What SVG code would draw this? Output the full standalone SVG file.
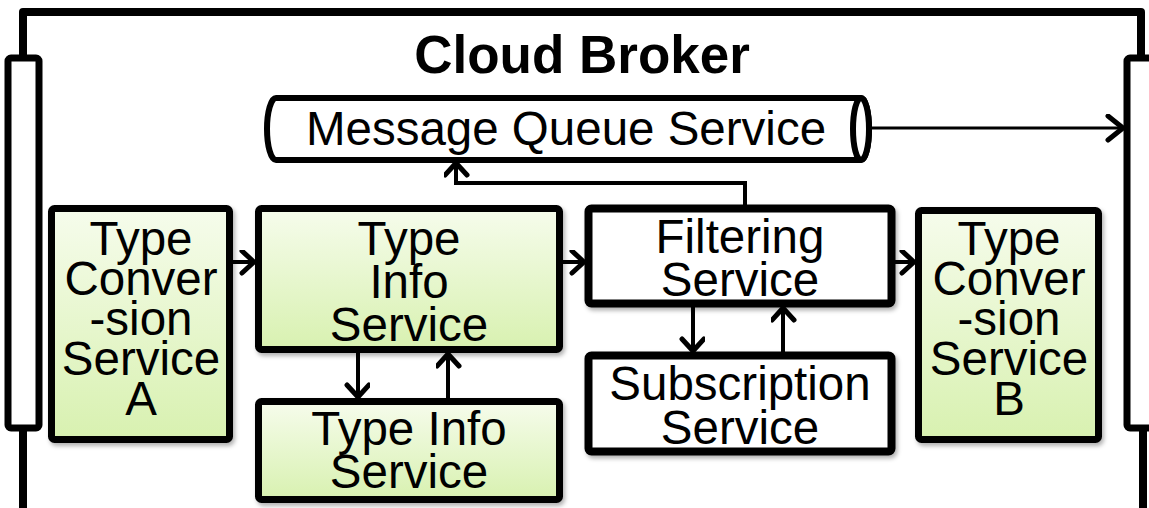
<svg xmlns="http://www.w3.org/2000/svg" width="1149" height="508" viewBox="0 0 1149 508">
  <defs>
    <linearGradient id="green" x1="0" y1="0" x2="0" y2="1">
      <stop offset="0" stop-color="#f6fcec"/>
      <stop offset="1" stop-color="#d8f1b0"/>
    </linearGradient>
    <filter id="shadow" x="-10%" y="-10%" width="120%" height="125%">
      <feDropShadow dx="2" dy="3" stdDeviation="2" flood-color="#000" flood-opacity="0.3"/>
    </filter>
    <marker id="arr" markerUnits="userSpaceOnUse" markerWidth="22" markerHeight="28" refX="15" refY="12" orient="auto">
      <path d="M3,1 L15,12 L3,23" fill="none" stroke="#000" stroke-width="5" stroke-linecap="round" stroke-linejoin="round"/>
    </marker>
    <marker id="arrBig" markerUnits="userSpaceOnUse" markerWidth="24" markerHeight="32" refX="18" refY="14" orient="auto">
      <path d="M3,2 L18,14 L3,26" fill="none" stroke="#000" stroke-width="5" stroke-linecap="round" stroke-linejoin="round"/>
    </marker>
  </defs>
  <style>
    .frame { fill: none; stroke: #000; stroke-width: 8; stroke-linejoin: round; }
    .bar { fill: #fff; stroke: #000; stroke-width: 7; }
    .box { stroke: #000; stroke-width: 7; filter: url(#shadow); }
    .g { fill: url(#green); }
    .w { fill: #fff; }
    .label { font-family: "Liberation Sans", Arial, sans-serif; font-size: 47.5px; fill: #000; text-anchor: middle; }
    .title { font-family: "Liberation Sans", Arial, sans-serif; font-size: 53px; font-weight: bold; fill: #000; text-anchor: middle; }
    .conn { fill: none; stroke: #000; stroke-width: 4; stroke-linejoin: miter; }
  </style>

  <rect width="1149" height="508" fill="#fff"/>

  <!-- broker frame with its two side bars -->
  <g id="frame">
    <path class="frame" d="M23,58 V12 H1141 V58 M23,428 V512 H1143 V428"/>
    <rect class="bar" x="8" y="58" width="31" height="370" rx="3"/>
    <rect class="bar" x="1127" y="58" width="40" height="370" rx="3"/>
    <text class="title" x="582" y="73">Cloud Broker</text>
  </g>

  <!-- message queue cylinder -->
  <g id="message-queue">
    <path d="M276,98 H861 A8,31 0 0 1 861,160 H276 A9,31 0 0 1 276,98 Z" fill="#fff" stroke="#000" stroke-width="6"/>
    <ellipse cx="861" cy="129" rx="8" ry="31" fill="#fff" stroke="#000" stroke-width="6"/>
    <text class="label" x="566" y="145">Message Queue Service</text>
  </g>

  <g id="type-conversion-a">
    <rect class="box g" x="51.5" y="208.5" width="178" height="231" rx="3"/>
    <text class="label" x="141" y="255">Type</text>
    <text class="label" x="141" y="295">Conver</text>
    <text class="label" x="141" y="335">-sion</text>
    <text class="label" x="141" y="375">Service</text>
    <text class="label" x="141" y="415">A</text>
  </g>

  <g id="type-info">
    <rect class="box g" x="258.5" y="208.5" width="301" height="141" rx="3"/>
    <text class="label" x="409" y="255">Type</text>
    <text class="label" x="409" y="298">Info</text>
    <text class="label" x="409" y="341">Service</text>
  </g>

  <g id="type-info-store">
    <rect class="box g" x="258.5" y="401.5" width="301" height="98" rx="3"/>
    <text class="label" x="409" y="445">Type Info</text>
    <text class="label" x="409" y="488">Service</text>
  </g>

  <g id="filtering">
    <rect class="box w" x="588.5" y="208.5" width="303" height="95" rx="3" style="stroke-width:8"/>
    <text class="label" x="740" y="253">Filtering</text>
    <text class="label" x="740" y="296">Service</text>
  </g>

  <g id="subscription">
    <rect class="box w" x="588.5" y="355.5" width="303" height="96" rx="3" style="stroke-width:8"/>
    <text class="label" x="740" y="400">Subscription</text>
    <text class="label" x="740" y="444">Service</text>
  </g>

  <g id="type-conversion-b">
    <rect class="box g" x="918.5" y="210.5" width="180" height="229" rx="3"/>
    <text class="label" x="1009" y="255">Type</text>
    <text class="label" x="1009" y="295">Conver</text>
    <text class="label" x="1009" y="335">-sion</text>
    <text class="label" x="1009" y="375">Service</text>
    <text class="label" x="1009" y="415">B</text>
  </g>

  <g id="connectors">
    <path class="conn" d="M233,262 H254" marker-end="url(#arr)"/>
    <path class="conn" d="M563,262 H584" marker-end="url(#arr)"/>
    <path class="conn" d="M895,262 H914" marker-end="url(#arr)"/>
    <path class="conn" d="M358,353 V397" marker-end="url(#arr)"/>
    <path class="conn" d="M448,398 V354" marker-end="url(#arr)"/>
    <path class="conn" d="M693,307 V351" marker-end="url(#arr)"/>
    <path class="conn" d="M783,352 V308" marker-end="url(#arr)"/>
    <path class="conn" d="M745,205 V183 H456 V163" marker-end="url(#arr)"/>
    <path class="conn" d="M870,128 H1123" style="stroke-width:3" marker-end="url(#arrBig)"/>
  </g>
</svg>
